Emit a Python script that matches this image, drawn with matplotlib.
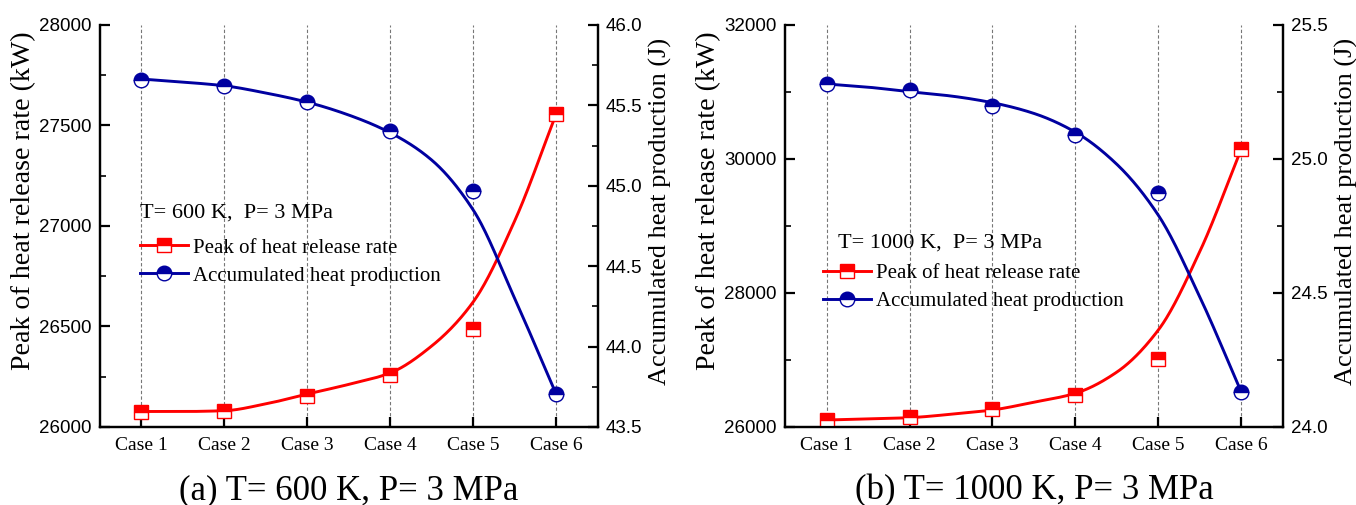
import numpy as np
import matplotlib
matplotlib.use("Agg")
import matplotlib.pyplot as plt
from matplotlib.ticker import MultipleLocator, FormatStrFormatter
from matplotlib.lines import Line2D

# Data
cases = ["Case 1", "Case 2", "Case 3", "Case 4", "Case 5", "Case 6"]

# (a) T = 600 K: measured points
hrr_600 = [26075, 26078, 26154, 26259, 26488, 27557]      # peak heat release rate (kW)
heat_600 = [45.66, 45.62, 45.52, 45.34, 44.97, 43.705]     # accumulated heat (J)
# (b) T = 1000 K: measured points
hrr_1000 = [26104, 26150, 26270, 26470, 27015, 30149]
heat_1000 = [25.28, 25.257, 25.198, 25.09, 24.873, 24.13]

# smoothed trend curves, read at every half case (Case 1, 1.5, ..., Case 6)
curve_pos = [1, 1.5, 2, 2.5, 3, 3.5, 4, 4.5, 5, 5.5, 6]
hrr_600_curve = [26077, 26077, 26081, 26115, 26164, 26212, 26269, 26403, 26622, 27025, 27557]
heat_600_curve = [45.664, 45.645, 45.622, 45.577, 45.52, 45.44, 45.33, 45.16, 44.85, 44.30, 43.705]
hrr_1000_curve = [26104, 26120, 26139, 26190, 26254, 26370, 26503, 26820, 27448, 28620, 30149]
heat_1000_curve = [25.28, 25.268, 25.251, 25.235, 25.21, 25.17, 25.10, 24.98, 24.79, 24.485, 24.13]

SERIF = "Liberation Serif"
SANS = "Liberation Sans"
RED = "#FF0000"
BLUE = "#0000A0"

plt.rcParams["xtick.direction"] = "in"
plt.rcParams["ytick.direction"] = "in"


def pchip(x, y, xs):
    """Shape preserving cubic (Fritsch-Carlson) through the read curve values"""
    x = np.asarray(x, float)
    y = np.asarray(y, float)
    h = np.diff(x)
    d = np.diff(y) / h
    m = np.zeros_like(y)
    m[0], m[-1] = d[0], d[-1]
    for k in range(1, len(x) - 1):
        if d[k - 1] * d[k] > 0:
            w1 = 2 * h[k] + h[k - 1]
            w2 = h[k] + 2 * h[k - 1]
            m[k] = (w1 + w2) / (w1 / d[k - 1] + w2 / d[k])
    idx = np.clip(np.searchsorted(x, xs) - 1, 0, len(x) - 2)
    t = (xs - x[idx]) / h[idx]
    h00 = 2 * t**3 - 3 * t**2 + 1
    h10 = t**3 - 2 * t**2 + t
    h01 = -2 * t**3 + 3 * t**2
    h11 = t**3 - t**2
    return (h00 * y[idx] + h10 * h[idx] * m[idx]
            + h01 * y[idx + 1] + h11 * h[idx] * m[idx + 1])


def draw_panel(fig, rect, hrr, heat, hrr_curve, heat_curve, ylim_l, major_l,
               minor_l, ylim_r, note, caption, note_xy, leg_xy):
    ax = fig.add_axes(rect)
    ax2 = ax.twinx()
    x = np.arange(1, len(cases) + 1, dtype=float)
    xs = np.linspace(1, len(cases), 400)

    ax.plot(xs, pchip(curve_pos, hrr_curve, xs), color=RED, lw=2.1, zorder=3)
    ax.plot(x, hrr, ls="none", marker="s", ms=9.5, fillstyle="top",
            color=RED, markerfacecoloralt="white", mec=RED, mew=1.0, zorder=4)

    ax2.plot(xs, pchip(curve_pos, heat_curve, xs), color=BLUE, lw=2.1, zorder=3)
    ax2.plot(x, heat, ls="none", marker="o", ms=10.5, fillstyle="top",
             color=BLUE, markerfacecoloralt="white", mec=BLUE, mew=1.0, zorder=4)

    ax.set_xlim(0.5, len(cases) + 0.5)
    ax.set_xticks(x)
    ax.set_xticklabels(cases, fontfamily=SERIF, fontsize=14)
    ax.set_ylim(*ylim_l)
    ax.yaxis.set_major_locator(MultipleLocator(major_l))
    ax.yaxis.set_minor_locator(MultipleLocator(minor_l))
    ax2.set_ylim(*ylim_r)
    ax2.yaxis.set_major_locator(MultipleLocator(0.5))
    ax2.yaxis.set_minor_locator(MultipleLocator(0.25))
    ax2.yaxis.set_major_formatter(FormatStrFormatter("%.1f"))

    ax.grid(axis="x", ls=(0, (3, 2)), color="#777777", lw=0.8)
    ax.set_axisbelow(True)

    for a_ in (ax, ax2):
        for sp in a_.spines.values():
            sp.set_linewidth(1.6)
        a_.spines["top"].set_visible(False)
        a_.tick_params(which="major", direction="in", length=7, width=1.6)
        a_.tick_params(which="minor", direction="in", length=4, width=1.2)
        for lab in a_.get_yticklabels():
            lab.set_fontfamily(SANS)
            lab.set_fontsize(13.5)
    ax.tick_params(axis="x", pad=7)
    ax.tick_params(axis="y", pad=6)
    ax2.tick_params(axis="y", pad=6)

    ax.set_ylabel("Peak of heat release rate (kW)", fontfamily=SERIF, fontsize=20.2)
    ax2.set_ylabel("Accumulated heat production (J)", fontfamily=SERIF, fontsize=19)
    ax.yaxis.set_label_coords(-0.129, 0.562)
    ax2.yaxis.set_label_coords(1.104, 0.537)

    ax.text(note_xy[0], note_xy[1], note, transform=ax.transAxes,
            fontfamily=SERIF, fontsize=16, va="center")
    handles = [
        Line2D([], [], color=RED, lw=2.1, marker="s", ms=9.5, fillstyle="top",
               markerfacecoloralt="white", mec=RED, mew=1.0),
        Line2D([], [], color=BLUE, lw=2.1, marker="o", ms=10.5, fillstyle="top",
               markerfacecoloralt="white", mec=BLUE, mew=1.0),
    ]
    ax2.legend(handles, ["Peak of heat release rate", "Accumulated heat production"],
               loc="upper left", bbox_to_anchor=leg_xy,
               frameon=False, prop={"family": SERIF, "size": 15},
               handlelength=2.3, handletextpad=0.25, labelspacing=0.4,
               borderaxespad=0, borderpad=0)

    fig.text(rect[0] + rect[2] / 2, -0.004, caption, ha="center", va="bottom",
             fontfamily=SERIF, fontsize=25)
    return ax, ax2


fig = plt.figure(figsize=(13.56, 5.05), dpi=100)

draw_panel(fig, [0.0737, 0.1545, 0.367, 0.796], hrr_600, heat_600,
           hrr_600_curve, heat_600_curve,
           (26000, 28000), 500, 250, (43.5, 46.0),
           "T= 600 K,  P= 3 MPa", "(a) T= 600 K, P= 3 MPa",
           (0.080, 0.532), (0.080, 0.470))
draw_panel(fig, [0.579, 0.1545, 0.367, 0.796], hrr_1000, heat_1000,
           hrr_1000_curve, heat_1000_curve,
           (26000, 32000), 2000, 1000, (24.0, 25.5),
           "T= 1000 K,  P= 3 MPa", "(b) T= 1000 K, P= 3 MPa",
           (0.106, 0.458), (0.076, 0.406))

fig.savefig("out.png", dpi=100)
